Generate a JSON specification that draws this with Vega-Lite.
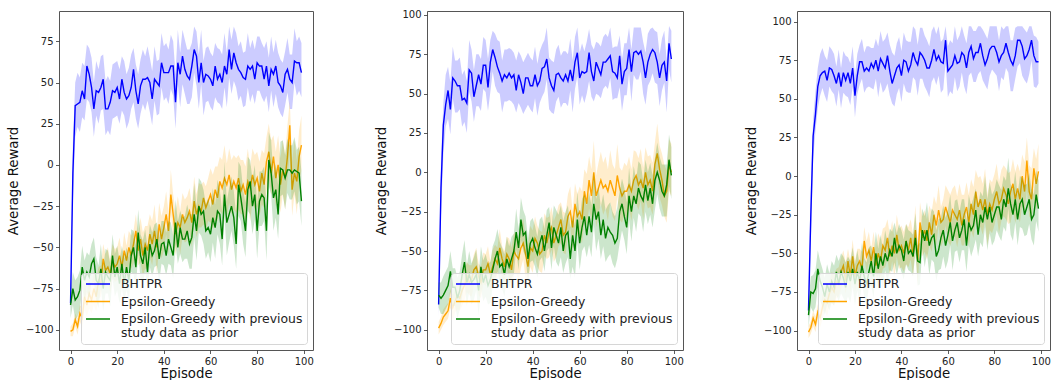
{
 "$schema": "https://vega.github.io/schema/vega-lite/v6.json",
 "padding": {"left": 6, "top": 9, "right": 0, "bottom": 0},
 "background": "white",
 "spacing": 60,
 "config": {
  "font": "DejaVu Sans",
  "view": {"stroke": "#555555", "strokeWidth": 1},
  "axis": {"grid": false, "domain": false, "labelFont": "DejaVu Sans", "labelFontSize": 10, "labelColor": "#222222", "tickColor": "#333333", "tickSize": 3.5, "tickWidth": 0.8, "labelPadding": 2.5, "titleFont": "DejaVu Sans", "titleFontSize": 13.3, "titleFontWeight": "normal", "titleColor": "#111111"},
  "axisX": {"titlePadding": 0, "labelFlush": false},
  "axisY": {"titlePadding": 5},
  "legend": {"orient": "bottom-right", "offset": 6, "labelFont": "DejaVu Sans", "labelFontSize": 12.4, "labelColor": "#222222", "symbolType": "M-2,0H2", "symbolSize": 144, "symbolOffset": 6, "symbolStrokeWidth": 1.5, "labelOffset": 16, "rowPadding": 3.5, "padding": 4, "fillColor": "rgba(255,255,255,0.8)", "strokeColor": "#d6d6d6", "cornerRadius": 3, "labelLimit": 400}
 },
 "datasets": {
  "p1": [
{"e":0,"b":-84,"bl":-92,"bh":-76,"o":-101,"ol":-104,"oh":-98,"g":-85,"gl":-93,"gh":-77},
{"e":1,"b":-5,"bl":-23,"bh":13,"o":-100,"ol":-104,"oh":-96,"g":-75,"gl":-85,"gh":-65},
{"e":2,"b":36,"bl":17,"bh":50,"o":-94,"ol":-98,"oh":-90,"g":-82,"gl":-94,"gh":-70},
{"e":3,"b":37,"bl":23,"bh":56,"o":-98,"ol":-103,"oh":-93,"g":-80,"gl":-92,"gh":-68},
{"e":4,"b":38,"bl":20,"bh":53,"o":-90,"ol":-95,"oh":-85,"g":-76,"gl":-88,"gh":-64},
{"e":5,"b":45,"bl":29,"bh":62,"o":-93,"ol":-99,"oh":-87,"g":-62,"gl":-75,"gh":-49},
{"e":6,"b":40,"bl":27,"bh":60,"o":-80,"ol":-88,"oh":-72,"g":-70,"gl":-82,"gh":-58},
{"e":7,"b":60,"bl":40,"bh":73,"o":-85,"ol":-92,"oh":-78,"g":-65,"gl":-77,"gh":-53},
{"e":8,"b":55,"bl":38,"bh":71,"o":-78,"ol":-87,"oh":-69,"g":-68,"gl":-81,"gh":-55},
{"e":9,"b":47,"bl":32,"bh":65,"o":-82,"ol":-90,"oh":-74,"g":-60,"gl":-72,"gh":-48},
{"e":10,"b":34,"bl":17,"bh":50,"o":-75,"ol":-85,"oh":-65,"g":-57,"gl":-71,"gh":-44},
{"e":11,"b":45,"bl":30,"bh":63,"o":-80,"ol":-89,"oh":-69,"g":-70,"gl":-82,"gh":-56},
{"e":12,"b":44,"bl":25,"bh":58,"o":-70,"ol":-81,"oh":-62,"g":-72,"gl":-87,"gh":-61},
{"e":13,"b":47,"bl":33,"bh":66,"o":-72,"ol":-80,"oh":-61,"g":-63,"gl":-74,"gh":-48},
{"e":14,"b":52,"bl":34,"bh":67,"o":-57,"ol":-68,"oh":-48,"g":-75,"gl":-89,"gh":-63},
{"e":15,"b":34,"bl":18,"bh":51,"o":-64,"ol":-74,"oh":-54,"g":-65,"gl":-78,"gh":-51},
{"e":16,"b":34,"bl":21,"bh":54,"o":-62,"ol":-70,"oh":-50,"g":-68,"gl":-78,"gh":-52},
{"e":17,"b":38,"bl":18,"bh":51,"o":-66,"ol":-78,"oh":-58,"g":-70,"gl":-86,"gh":-60},
{"e":18,"b":45,"bl":28,"bh":61,"o":-58,"ol":-68,"oh":-48,"g":-55,"gl":-69,"gh":-42},
{"e":19,"b":44,"bl":29,"bh":62,"o":-62,"ol":-71,"oh":-51,"g":-68,"gl":-80,"gh":-54},
{"e":20,"b":47,"bl":30,"bh":63,"o":-60,"ol":-70,"oh":-50,"g":-62,"gl":-76,"gh":-49},
{"e":21,"b":40,"bl":25,"bh":58,"o":-55,"ol":-64,"oh":-44,"g":-72,"gl":-84,"gh":-58},
{"e":22,"b":52,"bl":33,"bh":66,"o":-62,"ol":-73,"oh":-54,"g":-60,"gl":-75,"gh":-49},
{"e":23,"b":44,"bl":30,"bh":63,"o":-52,"ol":-60,"oh":-41,"g":-72,"gl":-83,"gh":-57},
{"e":24,"b":40,"bl":22,"bh":55,"o":-58,"ol":-69,"oh":-49,"g":-62,"gl":-76,"gh":-50},
{"e":25,"b":42,"bl":26,"bh":59,"o":-50,"ol":-60,"oh":-40,"g":-70,"gl":-83,"gh":-56},
{"e":26,"b":47,"bl":34,"bh":67,"o":-55,"ol":-63,"oh":-43,"g":-55,"gl":-65,"gh":-39},
{"e":27,"b":58,"bl":38,"bh":71,"o":-48,"ol":-60,"oh":-40,"g":-50,"gl":-66,"gh":-40},
{"e":28,"b":45,"bl":28,"bh":61,"o":-40,"ol":-50,"oh":-30,"g":-62,"gl":-76,"gh":-49},
{"e":29,"b":37,"bl":22,"bh":55,"o":-52,"ol":-61,"oh":-41,"g":-41,"gl":-53,"gh":-27},
{"e":30,"b":48,"bl":31,"bh":64,"o":-45,"ol":-59,"oh":-32,"g":-55,"gl":-69,"gh":-42},
{"e":31,"b":52,"bl":37,"bh":70,"o":-55,"ol":-67,"oh":-41,"g":-60,"gl":-72,"gh":-46},
{"e":32,"b":52,"bl":33,"bh":66,"o":-48,"ol":-63,"oh":-37,"g":-50,"gl":-65,"gh":-39},
{"e":33,"b":53,"bl":39,"bh":72,"o":-52,"ol":-63,"oh":-37,"g":-65,"gl":-76,"gh":-50},
{"e":34,"b":50,"bl":32,"bh":65,"o":-42,"ol":-56,"oh":-30,"g":-48,"gl":-62,"gh":-36},
{"e":35,"b":40,"bl":24,"bh":57,"o":-48,"ol":-61,"oh":-34,"g":-55,"gl":-68,"gh":-41},
{"e":36,"b":52,"bl":39,"bh":72,"o":-40,"ol":-50,"oh":-24,"g":-52,"gl":-62,"gh":-36},
{"e":37,"b":50,"bl":30,"bh":63,"o":-50,"ol":-66,"oh":-40,"g":-45,"gl":-61,"gh":-35},
{"e":38,"b":48,"bl":31,"bh":64,"o":-36,"ol":-50,"oh":-23,"g":-57,"gl":-71,"gh":-44},
{"e":39,"b":62,"bl":47,"bh":80,"o":-45,"ol":-57,"oh":-31,"g":-48,"gl":-60,"gh":-34},
{"e":40,"b":56,"bl":39,"bh":72,"o":-38,"ol":-52,"oh":-25,"g":-47,"gl":-61,"gh":-34},
{"e":41,"b":56,"bl":41,"bh":74,"o":-30,"ol":-42,"oh":-16,"g":-55,"gl":-67,"gh":-41},
{"e":42,"b":56,"bl":37,"bh":70,"o":-40,"ol":-55,"oh":-29,"g":-45,"gl":-60,"gh":-34},
{"e":43,"b":60,"bl":46,"bh":79,"o":-18,"ol":-29,"oh":-3,"g":-50,"gl":-61,"gh":-35},
{"e":44,"b":60,"bl":42,"bh":75,"o":-30,"ol":-44,"oh":-18,"g":-55,"gl":-69,"gh":-43},
{"e":45,"b":38,"bl":22,"bh":55,"o":-42,"ol":-55,"oh":-28,"g":-35,"gl":-48,"gh":-21},
{"e":46,"b":62,"bl":49,"bh":82,"o":-35,"ol":-45,"oh":-19,"g":-50,"gl":-60,"gh":-34},
{"e":47,"b":55,"bl":35,"bh":68,"o":-38,"ol":-54,"oh":-28,"g":-38,"gl":-54,"gh":-28},
{"e":48,"b":66,"bl":49,"bh":82,"o":-30,"ol":-44,"oh":-17,"g":-45,"gl":-59,"gh":-32},
{"e":49,"b":58,"bl":43,"bh":76,"o":-35,"ol":-47,"oh":-21,"g":-45,"gl":-57,"gh":-31},
{"e":50,"b":54,"bl":37,"bh":70,"o":-32,"ol":-46,"oh":-19,"g":-40,"gl":-57,"gh":-24},
{"e":51,"b":52,"bl":37,"bh":70,"o":-28,"ol":-40,"oh":-14,"g":-48,"gl":-63,"gh":-30},
{"e":52,"b":60,"bl":41,"bh":74,"o":-35,"ol":-50,"oh":-24,"g":-44,"gl":-63,"gh":-30},
{"e":53,"b":70,"bl":56,"bh":84,"o":-22,"ol":-33,"oh":-7,"g":-30,"gl":-44,"gh":-11},
{"e":54,"b":66,"bl":48,"bh":81,"o":-30,"ol":-44,"oh":-18,"g":-40,"gl":-58,"gh":-25},
{"e":55,"b":50,"bl":34,"bh":67,"o":-25,"ol":-38,"oh":-11,"g":-25,"gl":-41,"gh":-8},
{"e":56,"b":62,"bl":49,"bh":82,"o":-28,"ol":-38,"oh":-12,"g":-30,"gl":-43,"gh":-10},
{"e":57,"b":50,"bl":30,"bh":63,"o":-20,"ol":-36,"oh":-10,"g":-28,"gl":-48,"gh":-15},
{"e":58,"b":55,"bl":38,"bh":71,"o":-26,"ol":-40,"oh":-13,"g":-40,"gl":-57,"gh":-24},
{"e":59,"b":54,"bl":39,"bh":72,"o":-22,"ol":-34,"oh":-8,"g":-38,"gl":-53,"gh":-20},
{"e":60,"b":52,"bl":35,"bh":68,"o":-18,"ol":-35,"oh":-2,"g":-42,"gl":-59,"gh":-26},
{"e":61,"b":48,"bl":33,"bh":66,"o":-24,"ol":-39,"oh":-6,"g":-32,"gl":-47,"gh":-14},
{"e":62,"b":60,"bl":41,"bh":74,"o":-15,"ol":-34,"oh":-1,"g":-38,"gl":-57,"gh":-24},
{"e":63,"b":52,"bl":38,"bh":71,"o":-20,"ol":-34,"oh":-1,"g":-28,"gl":-42,"gh":-9},
{"e":64,"b":55,"bl":37,"bh":70,"o":-10,"ol":-28,"oh":5,"g":-30,"gl":-48,"gh":-15},
{"e":65,"b":50,"bl":34,"bh":67,"o":-14,"ol":-30,"oh":3,"g":-45,"gl":-61,"gh":-28},
{"e":66,"b":60,"bl":47,"bh":80,"o":-8,"ol":-21,"oh":12,"g":-18,"gl":-31,"gh":2},
{"e":67,"b":55,"bl":35,"bh":68,"o":-12,"ol":-32,"oh":1,"g":-35,"gl":-55,"gh":-22},
{"e":68,"b":70,"bl":53,"bh":84,"o":-6,"ol":-23,"oh":10,"g":-30,"gl":-47,"gh":-14},
{"e":69,"b":58,"bl":43,"bh":76,"o":-15,"ol":-30,"oh":3,"g":-25,"gl":-40,"gh":-7},
{"e":70,"b":68,"bl":51,"bh":84,"o":-10,"ol":-27,"oh":6,"g":-32,"gl":-49,"gh":-16},
{"e":71,"b":62,"bl":47,"bh":80,"o":-14,"ol":-29,"oh":4,"g":-48,"gl":-63,"gh":-30},
{"e":72,"b":58,"bl":39,"bh":72,"o":-8,"ol":-27,"oh":6,"g":-12,"gl":-31,"gh":2},
{"e":73,"b":56,"bl":42,"bh":75,"o":-16,"ol":-30,"oh":3,"g":-20,"gl":-34,"gh":-1},
{"e":74,"b":53,"bl":35,"bh":68,"o":-12,"ol":-30,"oh":3,"g":-30,"gl":-48,"gh":-15},
{"e":75,"b":52,"bl":36,"bh":69,"o":-18,"ol":-34,"oh":-1,"g":-40,"gl":-56,"gh":-23},
{"e":76,"b":60,"bl":47,"bh":80,"o":-10,"ol":-23,"oh":10,"g":-15,"gl":-28,"gh":5},
{"e":77,"b":58,"bl":38,"bh":71,"o":-14,"ol":-34,"oh":-1,"g":-10,"gl":-30,"gh":3},
{"e":78,"b":60,"bl":43,"bh":76,"o":-6,"ol":-23,"oh":10,"g":-25,"gl":-42,"gh":-9},
{"e":79,"b":52,"bl":37,"bh":70,"o":-12,"ol":-27,"oh":6,"g":-18,"gl":-33,"gh":0},
{"e":80,"b":62,"bl":45,"bh":78,"o":-8,"ol":-25,"oh":8,"g":-40,"gl":-57,"gh":-24},
{"e":81,"b":60,"bl":45,"bh":78,"o":-16,"ol":-31,"oh":2,"g":-22,"gl":-37,"gh":-4},
{"e":82,"b":60,"bl":41,"bh":74,"o":-5,"ol":-24,"oh":9,"g":-18,"gl":-37,"gh":-4},
{"e":83,"b":52,"bl":38,"bh":71,"o":-12,"ol":-26,"oh":7,"g":-20,"gl":-34,"gh":-1},
{"e":84,"b":60,"bl":42,"bh":75,"o":2,"ol":-16,"oh":17,"g":-40,"gl":-58,"gh":-25},
{"e":85,"b":48,"bl":32,"bh":65,"o":8,"ol":-8,"oh":25,"g":3,"gl":-13,"gh":20},
{"e":86,"b":58,"bl":45,"bh":78,"o":-5,"ol":-18,"oh":15,"g":-5,"gl":-18,"gh":15},
{"e":87,"b":55,"bl":35,"bh":68,"o":5,"ol":-15,"oh":18,"g":-20,"gl":-40,"gh":-7},
{"e":88,"b":60,"bl":43,"bh":76,"o":-8,"ol":-25,"oh":8,"g":-15,"gl":-32,"gh":1},
{"e":89,"b":50,"bl":35,"bh":68,"o":0,"ol":-15,"oh":18,"g":-30,"gl":-45,"gh":-12},
{"e":90,"b":48,"bl":31,"bh":64,"o":-12,"ol":-29,"oh":4,"g":-2,"gl":-19,"gh":14},
{"e":91,"b":44,"bl":29,"bh":62,"o":-3,"ol":-18,"oh":15,"g":-3,"gl":-18,"gh":15},
{"e":92,"b":55,"bl":36,"bh":69,"o":-8,"ol":-27,"oh":6,"g":-8,"gl":-27,"gh":6},
{"e":93,"b":58,"bl":44,"bh":77,"o":5,"ol":-9,"oh":24,"g":-3,"gl":-17,"gh":16},
{"e":94,"b":52,"bl":34,"bh":67,"o":24,"ol":6,"oh":39,"g":-3,"gl":-21,"gh":12},
{"e":95,"b":50,"bl":34,"bh":67,"o":-15,"ol":-31,"oh":2,"g":-5,"gl":-21,"gh":12},
{"e":96,"b":63,"bl":50,"bh":83,"o":-5,"ol":-18,"oh":15,"g":-3,"gl":-16,"gh":17},
{"e":97,"b":62,"bl":42,"bh":75,"o":-10,"ol":-30,"oh":3,"g":-4,"gl":-24,"gh":9},
{"e":98,"b":62,"bl":45,"bh":78,"o":5,"ol":-12,"oh":21,"g":-5,"gl":-22,"gh":11},
{"e":99,"b":56,"bl":41,"bh":74,"o":12,"ol":-3,"oh":30,"g":-22,"gl":-37,"gh":-4}
  ],
  "p2": [
{"e":0,"b":-84,"bl":-92,"bh":-76,"o":-99,"ol":-103,"oh":-95,"g":-78,"gl":-86,"gh":-70},
{"e":1,"b":-10,"bl":-28,"bh":8,"o":-96,"ol":-100,"oh":-92,"g":-80,"gl":-90,"gh":-70},
{"e":2,"b":30,"bl":11,"bh":44,"o":-92,"ol":-97,"oh":-87,"g":-78,"gl":-90,"gh":-66},
{"e":3,"b":43,"bl":29,"bh":62,"o":-90,"ol":-95,"oh":-85,"g":-75,"gl":-87,"gh":-63},
{"e":4,"b":52,"bl":34,"bh":67,"o":-88,"ol":-93,"oh":-83,"g":-72,"gl":-84,"gh":-60},
{"e":5,"b":40,"bl":24,"bh":57,"o":-80,"ol":-86,"oh":-74,"g":-63,"gl":-76,"gh":-50},
{"e":6,"b":60,"bl":47,"bh":80,"o":-86,"ol":-94,"oh":-78,"g":-73,"gl":-85,"gh":-61},
{"e":7,"b":58,"bl":38,"bh":71,"o":-82,"ol":-89,"oh":-75,"g":-73,"gl":-85,"gh":-61},
{"e":8,"b":55,"bl":38,"bh":71,"o":-78,"ol":-87,"oh":-69,"g":-80,"gl":-93,"gh":-67},
{"e":9,"b":55,"bl":40,"bh":73,"o":-80,"ol":-88,"oh":-72,"g":-75,"gl":-87,"gh":-63},
{"e":10,"b":46,"bl":29,"bh":62,"o":-75,"ol":-85,"oh":-65,"g":-65,"gl":-79,"gh":-52},
{"e":11,"b":47,"bl":32,"bh":65,"o":-72,"ol":-81,"oh":-61,"g":-57,"gl":-69,"gh":-43},
{"e":12,"b":44,"bl":25,"bh":58,"o":-65,"ol":-76,"oh":-57,"g":-70,"gl":-85,"gh":-59},
{"e":13,"b":65,"bl":51,"bh":84,"o":-70,"ol":-78,"oh":-59,"g":-65,"gl":-76,"gh":-50},
{"e":14,"b":63,"bl":45,"bh":78,"o":-68,"ol":-79,"oh":-59,"g":-70,"gl":-84,"gh":-58},
{"e":15,"b":48,"bl":32,"bh":65,"o":-62,"ol":-72,"oh":-52,"g":-68,"gl":-81,"gh":-54},
{"e":16,"b":55,"bl":42,"bh":75,"o":-60,"ol":-68,"oh":-48,"g":-65,"gl":-75,"gh":-49},
{"e":17,"b":62,"bl":42,"bh":75,"o":-66,"ol":-78,"oh":-58,"g":-75,"gl":-91,"gh":-65},
{"e":18,"b":56,"bl":39,"bh":72,"o":-70,"ol":-80,"oh":-60,"g":-60,"gl":-74,"gh":-47},
{"e":19,"b":68,"bl":53,"bh":86,"o":-62,"ol":-71,"oh":-51,"g":-70,"gl":-82,"gh":-56},
{"e":20,"b":68,"bl":51,"bh":84,"o":-62,"ol":-72,"oh":-52,"g":-65,"gl":-79,"gh":-52},
{"e":21,"b":54,"bl":39,"bh":72,"o":-58,"ol":-67,"oh":-47,"g":-72,"gl":-84,"gh":-58},
{"e":22,"b":70,"bl":51,"bh":84,"o":-65,"ol":-76,"oh":-57,"g":-68,"gl":-83,"gh":-57},
{"e":23,"b":78,"bl":64,"bh":90,"o":-60,"ol":-68,"oh":-49,"g":-62,"gl":-73,"gh":-47},
{"e":24,"b":73,"bl":55,"bh":88,"o":-55,"ol":-66,"oh":-46,"g":-55,"gl":-69,"gh":-43},
{"e":25,"b":67,"bl":51,"bh":84,"o":-58,"ol":-68,"oh":-48,"g":-50,"gl":-63,"gh":-36},
{"e":26,"b":63,"bl":50,"bh":83,"o":-48,"ol":-56,"oh":-36,"g":-60,"gl":-70,"gh":-44},
{"e":27,"b":58,"bl":38,"bh":71,"o":-55,"ol":-67,"oh":-47,"g":-58,"gl":-74,"gh":-48},
{"e":28,"b":62,"bl":45,"bh":78,"o":-60,"ol":-70,"oh":-50,"g":-65,"gl":-79,"gh":-52},
{"e":29,"b":60,"bl":45,"bh":78,"o":-52,"ol":-61,"oh":-41,"g":-55,"gl":-67,"gh":-41},
{"e":30,"b":63,"bl":46,"bh":79,"o":-55,"ol":-69,"oh":-42,"g":-60,"gl":-74,"gh":-47},
{"e":31,"b":60,"bl":45,"bh":78,"o":-62,"ol":-74,"oh":-48,"g":-55,"gl":-67,"gh":-41},
{"e":32,"b":62,"bl":43,"bh":76,"o":-50,"ol":-65,"oh":-39,"g":-50,"gl":-65,"gh":-39},
{"e":33,"b":52,"bl":38,"bh":71,"o":-53,"ol":-64,"oh":-38,"g":-38,"gl":-49,"gh":-23},
{"e":34,"b":62,"bl":44,"bh":77,"o":-55,"ol":-69,"oh":-43,"g":-48,"gl":-62,"gh":-36},
{"e":35,"b":57,"bl":41,"bh":74,"o":-48,"ol":-61,"oh":-34,"g":-30,"gl":-43,"gh":-16},
{"e":36,"b":50,"bl":37,"bh":70,"o":-45,"ol":-55,"oh":-29,"g":-40,"gl":-50,"gh":-24},
{"e":37,"b":60,"bl":40,"bh":73,"o":-52,"ol":-68,"oh":-42,"g":-38,"gl":-54,"gh":-28},
{"e":38,"b":60,"bl":43,"bh":76,"o":-60,"ol":-74,"oh":-47,"g":-55,"gl":-69,"gh":-42},
{"e":39,"b":55,"bl":40,"bh":73,"o":-48,"ol":-60,"oh":-34,"g":-45,"gl":-57,"gh":-31},
{"e":40,"b":55,"bl":38,"bh":71,"o":-50,"ol":-64,"oh":-37,"g":-42,"gl":-56,"gh":-29},
{"e":41,"b":62,"bl":47,"bh":80,"o":-42,"ol":-54,"oh":-28,"g":-48,"gl":-60,"gh":-34},
{"e":42,"b":55,"bl":36,"bh":69,"o":-45,"ol":-60,"oh":-34,"g":-52,"gl":-67,"gh":-41},
{"e":43,"b":58,"bl":44,"bh":77,"o":-52,"ol":-63,"oh":-37,"g":-45,"gl":-56,"gh":-30},
{"e":44,"b":66,"bl":48,"bh":81,"o":-50,"ol":-64,"oh":-38,"g":-40,"gl":-54,"gh":-28},
{"e":45,"b":67,"bl":51,"bh":84,"o":-40,"ol":-53,"oh":-26,"g":-50,"gl":-63,"gh":-36},
{"e":46,"b":72,"bl":59,"bh":92,"o":-45,"ol":-55,"oh":-29,"g":-40,"gl":-50,"gh":-24},
{"e":47,"b":60,"bl":40,"bh":73,"o":-38,"ol":-54,"oh":-28,"g":-32,"gl":-48,"gh":-22},
{"e":48,"b":55,"bl":38,"bh":71,"o":-35,"ol":-49,"oh":-22,"g":-48,"gl":-62,"gh":-35},
{"e":49,"b":52,"bl":37,"bh":70,"o":-45,"ol":-57,"oh":-31,"g":-35,"gl":-47,"gh":-21},
{"e":50,"b":62,"bl":45,"bh":78,"o":-40,"ol":-54,"oh":-27,"g":-40,"gl":-57,"gh":-24},
{"e":51,"b":63,"bl":48,"bh":81,"o":-35,"ol":-47,"oh":-21,"g":-45,"gl":-60,"gh":-27},
{"e":52,"b":60,"bl":41,"bh":74,"o":-30,"ol":-45,"oh":-19,"g":-35,"gl":-54,"gh":-21},
{"e":53,"b":58,"bl":44,"bh":77,"o":-40,"ol":-51,"oh":-25,"g":-50,"gl":-64,"gh":-31},
{"e":54,"b":62,"bl":44,"bh":77,"o":-38,"ol":-52,"oh":-26,"g":-40,"gl":-58,"gh":-25},
{"e":55,"b":58,"bl":42,"bh":75,"o":-28,"ol":-41,"oh":-14,"g":-38,"gl":-54,"gh":-21},
{"e":56,"b":65,"bl":52,"bh":85,"o":-25,"ol":-35,"oh":-9,"g":-55,"gl":-68,"gh":-35},
{"e":57,"b":58,"bl":38,"bh":71,"o":-35,"ol":-51,"oh":-25,"g":-40,"gl":-60,"gh":-27},
{"e":58,"b":70,"bl":53,"bh":86,"o":-20,"ol":-34,"oh":-7,"g":-50,"gl":-67,"gh":-34},
{"e":59,"b":76,"bl":61,"bh":92,"o":-28,"ol":-40,"oh":-14,"g":-30,"gl":-45,"gh":-12},
{"e":60,"b":60,"bl":43,"bh":76,"o":-25,"ol":-42,"oh":-9,"g":-45,"gl":-62,"gh":-29},
{"e":61,"b":64,"bl":49,"bh":82,"o":-30,"ol":-45,"oh":-12,"g":-35,"gl":-50,"gh":-17},
{"e":62,"b":63,"bl":44,"bh":77,"o":-12,"ol":-31,"oh":2,"g":-28,"gl":-47,"gh":-14},
{"e":63,"b":64,"bl":50,"bh":83,"o":-20,"ol":-34,"oh":-1,"g":-40,"gl":-54,"gh":-21},
{"e":64,"b":76,"bl":58,"bh":91,"o":-5,"ol":-23,"oh":10,"g":-28,"gl":-46,"gh":-13},
{"e":65,"b":64,"bl":48,"bh":81,"o":-15,"ol":-31,"oh":2,"g":-38,"gl":-54,"gh":-21},
{"e":66,"b":58,"bl":45,"bh":78,"o":0,"ol":-13,"oh":20,"g":-20,"gl":-33,"gh":0},
{"e":67,"b":70,"bl":50,"bh":83,"o":-15,"ol":-35,"oh":-2,"g":-30,"gl":-50,"gh":-17},
{"e":68,"b":66,"bl":49,"bh":82,"o":-10,"ol":-27,"oh":6,"g":-25,"gl":-42,"gh":-9},
{"e":69,"b":62,"bl":47,"bh":80,"o":-5,"ol":-20,"oh":13,"g":-40,"gl":-55,"gh":-22},
{"e":70,"b":70,"bl":53,"bh":86,"o":-10,"ol":-27,"oh":6,"g":-30,"gl":-47,"gh":-14},
{"e":71,"b":70,"bl":55,"bh":88,"o":-8,"ol":-23,"oh":10,"g":-42,"gl":-57,"gh":-24},
{"e":72,"b":72,"bl":53,"bh":86,"o":-12,"ol":-31,"oh":2,"g":-35,"gl":-54,"gh":-21},
{"e":73,"b":74,"bl":60,"bh":92,"o":-5,"ol":-19,"oh":14,"g":-38,"gl":-52,"gh":-19},
{"e":74,"b":64,"bl":46,"bh":79,"o":-10,"ol":-28,"oh":5,"g":-40,"gl":-58,"gh":-25},
{"e":75,"b":63,"bl":47,"bh":80,"o":-15,"ol":-31,"oh":2,"g":-45,"gl":-61,"gh":-28},
{"e":76,"b":60,"bl":47,"bh":80,"o":-2,"ol":-15,"oh":18,"g":-42,"gl":-55,"gh":-22},
{"e":77,"b":74,"bl":54,"bh":87,"o":-10,"ol":-30,"oh":3,"g":-25,"gl":-45,"gh":-12},
{"e":78,"b":56,"bl":39,"bh":72,"o":-15,"ol":-32,"oh":1,"g":-20,"gl":-37,"gh":-4},
{"e":79,"b":64,"bl":49,"bh":82,"o":-12,"ol":-27,"oh":6,"g":-28,"gl":-43,"gh":-10},
{"e":80,"b":66,"bl":49,"bh":82,"o":-12,"ol":-29,"oh":4,"g":-35,"gl":-52,"gh":-19},
{"e":81,"b":78,"bl":63,"bh":92,"o":-8,"ol":-23,"oh":10,"g":-15,"gl":-30,"gh":3},
{"e":82,"b":64,"bl":45,"bh":78,"o":-12,"ol":-31,"oh":2,"g":-25,"gl":-44,"gh":-11},
{"e":83,"b":76,"bl":62,"bh":92,"o":-5,"ol":-19,"oh":14,"g":-15,"gl":-29,"gh":4},
{"e":84,"b":77,"bl":59,"bh":92,"o":-2,"ol":-20,"oh":13,"g":-20,"gl":-38,"gh":-5},
{"e":85,"b":75,"bl":59,"bh":92,"o":-8,"ol":-24,"oh":9,"g":-10,"gl":-26,"gh":7},
{"e":86,"b":77,"bl":64,"bh":92,"o":-5,"ol":-18,"oh":15,"g":-15,"gl":-28,"gh":5},
{"e":87,"b":70,"bl":50,"bh":83,"o":-10,"ol":-30,"oh":3,"g":-18,"gl":-38,"gh":-5},
{"e":88,"b":60,"bl":43,"bh":76,"o":0,"ol":-17,"oh":16,"g":-8,"gl":-25,"gh":8},
{"e":89,"b":70,"bl":55,"bh":88,"o":-8,"ol":-23,"oh":10,"g":-18,"gl":-33,"gh":0},
{"e":90,"b":75,"bl":58,"bh":91,"o":-5,"ol":-22,"oh":11,"g":-10,"gl":-27,"gh":6},
{"e":91,"b":78,"bl":63,"bh":92,"o":-12,"ol":-27,"oh":6,"g":-20,"gl":-35,"gh":-2},
{"e":92,"b":76,"bl":57,"bh":90,"o":5,"ol":-14,"oh":19,"g":-5,"gl":-24,"gh":9},
{"e":93,"b":70,"bl":56,"bh":89,"o":12,"ol":-2,"oh":31,"g":0,"gl":-14,"gh":19},
{"e":94,"b":60,"bl":42,"bh":75,"o":2,"ol":-16,"oh":17,"g":-5,"gl":-23,"gh":10},
{"e":95,"b":68,"bl":52,"bh":85,"o":-5,"ol":-21,"oh":12,"g":-12,"gl":-28,"gh":5},
{"e":96,"b":70,"bl":57,"bh":90,"o":-15,"ol":-28,"oh":5,"g":-15,"gl":-28,"gh":5},
{"e":97,"b":58,"bl":38,"bh":71,"o":-12,"ol":-32,"oh":1,"g":-8,"gl":-28,"gh":5},
{"e":98,"b":82,"bl":65,"bh":93,"o":5,"ol":-12,"oh":21,"g":8,"gl":-9,"gh":24},
{"e":99,"b":72,"bl":57,"bh":90,"o":0,"ol":-15,"oh":18,"g":-2,"gl":-17,"gh":16}
  ],
  "p3": [
{"e":0,"b":-87,"bl":-95,"bh":-79,"o":-101,"ol":-105,"oh":-97,"g":-90,"gl":-98,"gh":-82},
{"e":1,"b":-25,"bl":-43,"bh":-7,"o":-98,"ol":-102,"oh":-94,"g":-75,"gl":-85,"gh":-65},
{"e":2,"b":26,"bl":11,"bh":37,"o":-92,"ol":-97,"oh":-87,"g":-76,"gl":-88,"gh":-64},
{"e":3,"b":40,"bl":29,"bh":55,"o":-96,"ol":-101,"oh":-91,"g":-73,"gl":-85,"gh":-61},
{"e":4,"b":58,"bl":44,"bh":70,"o":-88,"ol":-93,"oh":-83,"g":-60,"gl":-72,"gh":-48},
{"e":5,"b":65,"bl":52,"bh":79,"o":-92,"ol":-98,"oh":-86,"g":-68,"gl":-81,"gh":-55},
{"e":6,"b":67,"bl":57,"bh":83,"o":-85,"ol":-93,"oh":-77,"g":-72,"gl":-84,"gh":-60},
{"e":7,"b":68,"bl":52,"bh":78,"o":-80,"ol":-87,"oh":-73,"g":-78,"gl":-90,"gh":-66},
{"e":8,"b":62,"bl":48,"bh":75,"o":-82,"ol":-91,"oh":-73,"g":-70,"gl":-83,"gh":-57},
{"e":9,"b":70,"bl":58,"bh":84,"o":-76,"ol":-84,"oh":-68,"g":-75,"gl":-87,"gh":-63},
{"e":10,"b":69,"bl":55,"bh":82,"o":-72,"ol":-82,"oh":-62,"g":-68,"gl":-82,"gh":-55},
{"e":11,"b":65,"bl":53,"bh":79,"o":-75,"ol":-84,"oh":-64,"g":-72,"gl":-84,"gh":-58},
{"e":12,"b":60,"bl":45,"bh":71,"o":-68,"ol":-79,"oh":-60,"g":-62,"gl":-77,"gh":-51},
{"e":13,"b":67,"bl":56,"bh":82,"o":-70,"ol":-78,"oh":-59,"g":-70,"gl":-81,"gh":-55},
{"e":14,"b":58,"bl":44,"bh":70,"o":-62,"ol":-73,"oh":-53,"g":-62,"gl":-76,"gh":-50},
{"e":15,"b":67,"bl":54,"bh":81,"o":-58,"ol":-68,"oh":-48,"g":-66,"gl":-79,"gh":-52},
{"e":16,"b":62,"bl":52,"bh":78,"o":-68,"ol":-76,"oh":-56,"g":-72,"gl":-82,"gh":-56},
{"e":17,"b":67,"bl":51,"bh":77,"o":-55,"ol":-67,"oh":-47,"g":-62,"gl":-78,"gh":-52},
{"e":18,"b":60,"bl":46,"bh":73,"o":-65,"ol":-75,"oh":-55,"g":-68,"gl":-82,"gh":-55},
{"e":19,"b":70,"bl":58,"bh":84,"o":-52,"ol":-61,"oh":-41,"g":-60,"gl":-72,"gh":-46},
{"e":20,"b":52,"bl":38,"bh":65,"o":-65,"ol":-75,"oh":-55,"g":-70,"gl":-84,"gh":-57},
{"e":21,"b":65,"bl":53,"bh":79,"o":-58,"ol":-67,"oh":-47,"g":-62,"gl":-74,"gh":-48},
{"e":22,"b":74,"bl":59,"bh":85,"o":-55,"ol":-66,"oh":-47,"g":-68,"gl":-83,"gh":-57},
{"e":23,"b":74,"bl":63,"bh":89,"o":-60,"ol":-68,"oh":-49,"g":-58,"gl":-69,"gh":-43},
{"e":24,"b":68,"bl":54,"bh":80,"o":-42,"ol":-53,"oh":-33,"g":-65,"gl":-79,"gh":-53},
{"e":25,"b":70,"bl":57,"bh":84,"o":-52,"ol":-62,"oh":-42,"g":-70,"gl":-83,"gh":-56},
{"e":26,"b":68,"bl":58,"bh":84,"o":-48,"ol":-56,"oh":-36,"g":-62,"gl":-72,"gh":-46},
{"e":27,"b":73,"bl":57,"bh":83,"o":-55,"ol":-67,"oh":-47,"g":-55,"gl":-71,"gh":-45},
{"e":28,"b":70,"bl":56,"bh":83,"o":-46,"ol":-56,"oh":-36,"g":-65,"gl":-79,"gh":-52},
{"e":29,"b":75,"bl":63,"bh":89,"o":-58,"ol":-67,"oh":-47,"g":-50,"gl":-62,"gh":-36},
{"e":30,"b":68,"bl":51,"bh":84,"o":-50,"ol":-64,"oh":-37,"g":-60,"gl":-74,"gh":-47},
{"e":31,"b":76,"bl":61,"bh":94,"o":-55,"ol":-67,"oh":-41,"g":-52,"gl":-64,"gh":-38},
{"e":32,"b":73,"bl":54,"bh":87,"o":-45,"ol":-60,"oh":-34,"g":-58,"gl":-73,"gh":-47},
{"e":33,"b":70,"bl":56,"bh":89,"o":-48,"ol":-59,"oh":-33,"g":-50,"gl":-61,"gh":-35},
{"e":34,"b":78,"bl":60,"bh":93,"o":-40,"ol":-54,"oh":-28,"g":-55,"gl":-69,"gh":-43},
{"e":35,"b":68,"bl":52,"bh":85,"o":-52,"ol":-65,"oh":-38,"g":-48,"gl":-61,"gh":-34},
{"e":36,"b":60,"bl":47,"bh":80,"o":-45,"ol":-55,"oh":-29,"g":-52,"gl":-62,"gh":-36},
{"e":37,"b":65,"bl":45,"bh":78,"o":-50,"ol":-66,"oh":-40,"g":-40,"gl":-56,"gh":-30},
{"e":38,"b":70,"bl":53,"bh":86,"o":-38,"ol":-52,"oh":-25,"g":-50,"gl":-64,"gh":-37},
{"e":39,"b":72,"bl":57,"bh":90,"o":-48,"ol":-60,"oh":-34,"g":-45,"gl":-57,"gh":-31},
{"e":40,"b":65,"bl":48,"bh":81,"o":-45,"ol":-59,"oh":-32,"g":-48,"gl":-62,"gh":-35},
{"e":41,"b":75,"bl":60,"bh":93,"o":-50,"ol":-62,"oh":-36,"g":-55,"gl":-67,"gh":-41},
{"e":42,"b":74,"bl":55,"bh":88,"o":-42,"ol":-57,"oh":-31,"g":-42,"gl":-57,"gh":-31},
{"e":43,"b":68,"bl":54,"bh":87,"o":-48,"ol":-59,"oh":-33,"g":-50,"gl":-61,"gh":-35},
{"e":44,"b":72,"bl":54,"bh":87,"o":-40,"ol":-54,"oh":-28,"g":-48,"gl":-62,"gh":-36},
{"e":45,"b":80,"bl":64,"bh":97,"o":-52,"ol":-65,"oh":-38,"g":-52,"gl":-65,"gh":-38},
{"e":46,"b":75,"bl":62,"bh":95,"o":-35,"ol":-45,"oh":-19,"g":-40,"gl":-50,"gh":-24},
{"e":47,"b":72,"bl":52,"bh":85,"o":-55,"ol":-71,"oh":-45,"g":-55,"gl":-71,"gh":-45},
{"e":48,"b":80,"bl":63,"bh":96,"o":-30,"ol":-44,"oh":-17,"g":-56,"gl":-70,"gh":-43},
{"e":49,"b":78,"bl":63,"bh":96,"o":-40,"ol":-52,"oh":-26,"g":-35,"gl":-47,"gh":-21},
{"e":50,"b":75,"bl":58,"bh":91,"o":-35,"ol":-49,"oh":-22,"g":-42,"gl":-59,"gh":-26},
{"e":51,"b":70,"bl":55,"bh":88,"o":-42,"ol":-54,"oh":-28,"g":-35,"gl":-50,"gh":-17},
{"e":52,"b":70,"bl":51,"bh":84,"o":-30,"ol":-45,"oh":-19,"g":-45,"gl":-64,"gh":-31},
{"e":53,"b":75,"bl":61,"bh":94,"o":-38,"ol":-49,"oh":-23,"g":-40,"gl":-54,"gh":-21},
{"e":54,"b":82,"bl":64,"bh":97,"o":-25,"ol":-39,"oh":-13,"g":-38,"gl":-56,"gh":-23},
{"e":55,"b":75,"bl":59,"bh":92,"o":-32,"ol":-45,"oh":-18,"g":-52,"gl":-68,"gh":-35},
{"e":56,"b":78,"bl":65,"bh":97,"o":-22,"ol":-32,"oh":-6,"g":-48,"gl":-61,"gh":-28},
{"e":57,"b":74,"bl":54,"bh":87,"o":-30,"ol":-46,"oh":-20,"g":-40,"gl":-60,"gh":-27},
{"e":58,"b":73,"bl":56,"bh":89,"o":-28,"ol":-42,"oh":-15,"g":-35,"gl":-52,"gh":-19},
{"e":59,"b":88,"bl":73,"bh":97,"o":-20,"ol":-32,"oh":-6,"g":-45,"gl":-60,"gh":-27},
{"e":60,"b":68,"bl":51,"bh":84,"o":-25,"ol":-42,"oh":-9,"g":-38,"gl":-55,"gh":-22},
{"e":61,"b":70,"bl":55,"bh":88,"o":-30,"ol":-45,"oh":-12,"g":-30,"gl":-45,"gh":-12},
{"e":62,"b":72,"bl":53,"bh":86,"o":-22,"ol":-41,"oh":-8,"g":-42,"gl":-61,"gh":-28},
{"e":63,"b":78,"bl":64,"bh":97,"o":-25,"ol":-39,"oh":-6,"g":-35,"gl":-49,"gh":-16},
{"e":64,"b":73,"bl":55,"bh":88,"o":-28,"ol":-46,"oh":-13,"g":-30,"gl":-48,"gh":-15},
{"e":65,"b":74,"bl":58,"bh":91,"o":-22,"ol":-38,"oh":-5,"g":-40,"gl":-56,"gh":-23},
{"e":66,"b":80,"bl":67,"bh":97,"o":-32,"ol":-45,"oh":-12,"g":-35,"gl":-48,"gh":-15},
{"e":67,"b":78,"bl":58,"bh":91,"o":-25,"ol":-45,"oh":-12,"g":-28,"gl":-48,"gh":-15},
{"e":68,"b":70,"bl":53,"bh":86,"o":-20,"ol":-37,"oh":-4,"g":-45,"gl":-62,"gh":-29},
{"e":69,"b":80,"bl":65,"bh":97,"o":-30,"ol":-45,"oh":-12,"g":-30,"gl":-45,"gh":-12},
{"e":70,"b":84,"bl":67,"bh":97,"o":-18,"ol":-35,"oh":-2,"g":-35,"gl":-52,"gh":-19},
{"e":71,"b":76,"bl":61,"bh":94,"o":-25,"ol":-40,"oh":-7,"g":-32,"gl":-47,"gh":-14},
{"e":72,"b":80,"bl":61,"bh":94,"o":-10,"ol":-29,"oh":4,"g":-22,"gl":-41,"gh":-8},
{"e":73,"b":80,"bl":66,"bh":97,"o":-20,"ol":-34,"oh":-1,"g":-38,"gl":-52,"gh":-19},
{"e":74,"b":86,"bl":68,"bh":97,"o":-15,"ol":-33,"oh":0,"g":-25,"gl":-43,"gh":-10},
{"e":75,"b":78,"bl":62,"bh":95,"o":-22,"ol":-38,"oh":-5,"g":-30,"gl":-46,"gh":-13},
{"e":76,"b":72,"bl":59,"bh":92,"o":-15,"ol":-28,"oh":5,"g":-20,"gl":-33,"gh":0},
{"e":77,"b":76,"bl":56,"bh":89,"o":-25,"ol":-45,"oh":-12,"g":-28,"gl":-48,"gh":-15},
{"e":78,"b":82,"bl":65,"bh":97,"o":-18,"ol":-35,"oh":-2,"g":-20,"gl":-37,"gh":-4},
{"e":79,"b":84,"bl":69,"bh":97,"o":-22,"ol":-37,"oh":-4,"g":-30,"gl":-45,"gh":-12},
{"e":80,"b":84,"bl":67,"bh":97,"o":-15,"ol":-32,"oh":1,"g":-25,"gl":-42,"gh":-9},
{"e":81,"b":80,"bl":65,"bh":97,"o":-10,"ol":-25,"oh":8,"g":-20,"gl":-35,"gh":-2},
{"e":82,"b":74,"bl":55,"bh":88,"o":-18,"ol":-37,"oh":-4,"g":-20,"gl":-39,"gh":-6},
{"e":83,"b":78,"bl":64,"bh":97,"o":-15,"ol":-29,"oh":4,"g":-28,"gl":-42,"gh":-9},
{"e":84,"b":80,"bl":62,"bh":95,"o":-8,"ol":-26,"oh":7,"g":-15,"gl":-33,"gh":0},
{"e":85,"b":86,"bl":70,"bh":97,"o":-12,"ol":-28,"oh":5,"g":-20,"gl":-36,"gh":-3},
{"e":86,"b":80,"bl":67,"bh":97,"o":-18,"ol":-31,"oh":2,"g":-8,"gl":-21,"gh":12},
{"e":87,"b":75,"bl":55,"bh":88,"o":-10,"ol":-30,"oh":3,"g":-18,"gl":-38,"gh":-5},
{"e":88,"b":72,"bl":55,"bh":88,"o":-5,"ol":-22,"oh":11,"g":-25,"gl":-42,"gh":-9},
{"e":89,"b":78,"bl":63,"bh":96,"o":-15,"ol":-30,"oh":3,"g":-15,"gl":-30,"gh":3},
{"e":90,"b":88,"bl":71,"bh":97,"o":-8,"ol":-25,"oh":8,"g":-28,"gl":-45,"gh":-12},
{"e":91,"b":88,"bl":73,"bh":97,"o":-15,"ol":-30,"oh":3,"g":-18,"gl":-33,"gh":0},
{"e":92,"b":84,"bl":65,"bh":97,"o":0,"ol":-19,"oh":14,"g":-15,"gl":-34,"gh":-1},
{"e":93,"b":76,"bl":62,"bh":95,"o":-10,"ol":-24,"oh":9,"g":-25,"gl":-39,"gh":-6},
{"e":94,"b":78,"bl":60,"bh":93,"o":10,"ol":-8,"oh":25,"g":-20,"gl":-38,"gh":-5},
{"e":95,"b":82,"bl":66,"bh":97,"o":-10,"ol":-26,"oh":7,"g":-15,"gl":-31,"gh":2},
{"e":96,"b":88,"bl":75,"bh":97,"o":-15,"ol":-28,"oh":5,"g":-28,"gl":-41,"gh":-8},
{"e":97,"b":78,"bl":58,"bh":91,"o":5,"ol":-15,"oh":18,"g":-25,"gl":-45,"gh":-12},
{"e":98,"b":74,"bl":57,"bh":90,"o":-5,"ol":-22,"oh":11,"g":-12,"gl":-29,"gh":4},
{"e":99,"b":74,"bl":60,"bh":87,"o":3,"ol":-12,"oh":21,"g":-21,"gl":-36,"gh":-3}
  ]
 },
 "resolve": {"scale": {"color": "independent"}, "legend": {"color": "independent"}},
 "hconcat": [
  {
   "width": 254, "height": 339,
   "data": {"name": "p1"},
   "encoding": {"x": {"field": "e", "type": "quantitative", "title": "Episode", "scale": {"domain": [-4.95, 103.95], "nice": false, "zero": false}, "axis": {"values": [0, 20, 40, 60, 80, 100]}}},
   "layer": [
    {"mark": {"type": "area", "color": "#0000ff", "opacity": 0.2}, "encoding": {"y": {"field": "bl", "type": "quantitative", "title": "Average Reward", "scale": {"domain": [-112.3, 93.4], "nice": false, "zero": false}, "axis": {"values": [-100, -75, -50, -25, 0, 25, 50, 75]}}, "y2": {"field": "bh"}}},
    {"mark": {"type": "line", "strokeWidth": 1.4}, "encoding": {"y": {"field": "b", "type": "quantitative", "title": "Average Reward", "scale": {"domain": [-112.3, 93.4], "nice": false, "zero": false}}, "color": {"datum": "BHTPR", "type": "nominal", "scale": {"domain": ["BHTPR", "Epsilon-Greedy", "Epsilon-Greedy with previous study data as prior"], "range": ["#0000ff", "#ffa500", "#008000"]}, "legend": {"title": null, "labelExpr": "datum.label == 'Epsilon-Greedy with previous study data as prior' ? ['Epsilon-Greedy with previous', '\u00a0study data as prior'] : datum.label"}}}},
    {"mark": {"type": "area", "color": "#ffa500", "opacity": 0.2}, "encoding": {"y": {"field": "ol", "type": "quantitative", "title": "Average Reward", "scale": {"domain": [-112.3, 93.4], "nice": false, "zero": false}}, "y2": {"field": "oh"}}},
    {"mark": {"type": "line", "strokeWidth": 1.4}, "encoding": {"y": {"field": "o", "type": "quantitative", "title": "Average Reward", "scale": {"domain": [-112.3, 93.4], "nice": false, "zero": false}}, "color": {"datum": "Epsilon-Greedy", "type": "nominal"}}},
    {"mark": {"type": "area", "color": "#008000", "opacity": 0.2}, "encoding": {"y": {"field": "gl", "type": "quantitative", "title": "Average Reward", "scale": {"domain": [-112.3, 93.4], "nice": false, "zero": false}}, "y2": {"field": "gh"}}},
    {"mark": {"type": "line", "strokeWidth": 1.4}, "encoding": {"y": {"field": "g", "type": "quantitative", "title": "Average Reward", "scale": {"domain": [-112.3, 93.4], "nice": false, "zero": false}}, "color": {"datum": "Epsilon-Greedy with previous study data as prior", "type": "nominal"}}}
   ]
  },
  {
   "width": 256, "height": 339,
   "data": {"name": "p2"},
   "encoding": {"x": {"field": "e", "type": "quantitative", "title": "Episode", "scale": {"domain": [-4.95, 103.95], "nice": false, "zero": false}, "axis": {"values": [0, 20, 40, 60, 80, 100]}}},
   "layer": [
    {"mark": {"type": "area", "color": "#0000ff", "opacity": 0.2}, "encoding": {"y": {"field": "bl", "type": "quantitative", "title": "Average Reward", "scale": {"domain": [-112.9, 102.5], "nice": false, "zero": false}, "axis": {"values": [-100, -75, -50, -25, 0, 25, 50, 75, 100]}}, "y2": {"field": "bh"}}},
    {"mark": {"type": "line", "strokeWidth": 1.4}, "encoding": {"y": {"field": "b", "type": "quantitative", "title": "Average Reward", "scale": {"domain": [-112.9, 102.5], "nice": false, "zero": false}}, "color": {"datum": "BHTPR", "type": "nominal", "scale": {"domain": ["BHTPR", "Epsilon-Greedy", "Epsilon-Greedy with previous study data as prior"], "range": ["#0000ff", "#ffa500", "#008000"]}, "legend": {"title": null, "labelExpr": "datum.label == 'Epsilon-Greedy with previous study data as prior' ? ['Epsilon-Greedy with previous', '\u00a0study data as prior'] : datum.label"}}}},
    {"mark": {"type": "area", "color": "#ffa500", "opacity": 0.2}, "encoding": {"y": {"field": "ol", "type": "quantitative", "title": "Average Reward", "scale": {"domain": [-112.9, 102.5], "nice": false, "zero": false}}, "y2": {"field": "oh"}}},
    {"mark": {"type": "line", "strokeWidth": 1.4}, "encoding": {"y": {"field": "o", "type": "quantitative", "title": "Average Reward", "scale": {"domain": [-112.9, 102.5], "nice": false, "zero": false}}, "color": {"datum": "Epsilon-Greedy", "type": "nominal"}}},
    {"mark": {"type": "area", "color": "#008000", "opacity": 0.2}, "encoding": {"y": {"field": "gl", "type": "quantitative", "title": "Average Reward", "scale": {"domain": [-112.9, 102.5], "nice": false, "zero": false}}, "y2": {"field": "gh"}}},
    {"mark": {"type": "line", "strokeWidth": 1.4}, "encoding": {"y": {"field": "g", "type": "quantitative", "title": "Average Reward", "scale": {"domain": [-112.9, 102.5], "nice": false, "zero": false}}, "color": {"datum": "Epsilon-Greedy with previous study data as prior", "type": "nominal"}}}
   ]
  },
  {
   "width": 253, "height": 339,
   "data": {"name": "p3"},
   "encoding": {"x": {"field": "e", "type": "quantitative", "title": "Episode", "scale": {"domain": [-4.95, 103.95], "nice": false, "zero": false}, "axis": {"values": [0, 20, 40, 60, 80, 100]}}},
   "layer": [
    {"mark": {"type": "area", "color": "#0000ff", "opacity": 0.2}, "encoding": {"y": {"field": "bl", "type": "quantitative", "title": "Average Reward", "scale": {"domain": [-112.6, 106.9], "nice": false, "zero": false}, "axis": {"values": [-100, -75, -50, -25, 0, 25, 50, 75, 100]}}, "y2": {"field": "bh"}}},
    {"mark": {"type": "line", "strokeWidth": 1.4}, "encoding": {"y": {"field": "b", "type": "quantitative", "title": "Average Reward", "scale": {"domain": [-112.6, 106.9], "nice": false, "zero": false}}, "color": {"datum": "BHTPR", "type": "nominal", "scale": {"domain": ["BHTPR", "Epsilon-Greedy", "Epsilon-Greedy with previous study data as prior"], "range": ["#0000ff", "#ffa500", "#008000"]}, "legend": {"title": null, "labelExpr": "datum.label == 'Epsilon-Greedy with previous study data as prior' ? ['Epsilon-Greedy with previous', '\u00a0study data as prior'] : datum.label"}}}},
    {"mark": {"type": "area", "color": "#ffa500", "opacity": 0.2}, "encoding": {"y": {"field": "ol", "type": "quantitative", "title": "Average Reward", "scale": {"domain": [-112.6, 106.9], "nice": false, "zero": false}}, "y2": {"field": "oh"}}},
    {"mark": {"type": "line", "strokeWidth": 1.4}, "encoding": {"y": {"field": "o", "type": "quantitative", "title": "Average Reward", "scale": {"domain": [-112.6, 106.9], "nice": false, "zero": false}}, "color": {"datum": "Epsilon-Greedy", "type": "nominal"}}},
    {"mark": {"type": "area", "color": "#008000", "opacity": 0.2}, "encoding": {"y": {"field": "gl", "type": "quantitative", "title": "Average Reward", "scale": {"domain": [-112.6, 106.9], "nice": false, "zero": false}}, "y2": {"field": "gh"}}},
    {"mark": {"type": "line", "strokeWidth": 1.4}, "encoding": {"y": {"field": "g", "type": "quantitative", "title": "Average Reward", "scale": {"domain": [-112.6, 106.9], "nice": false, "zero": false}}, "color": {"datum": "Epsilon-Greedy with previous study data as prior", "type": "nominal"}}}
   ]
  }
 ]
}
